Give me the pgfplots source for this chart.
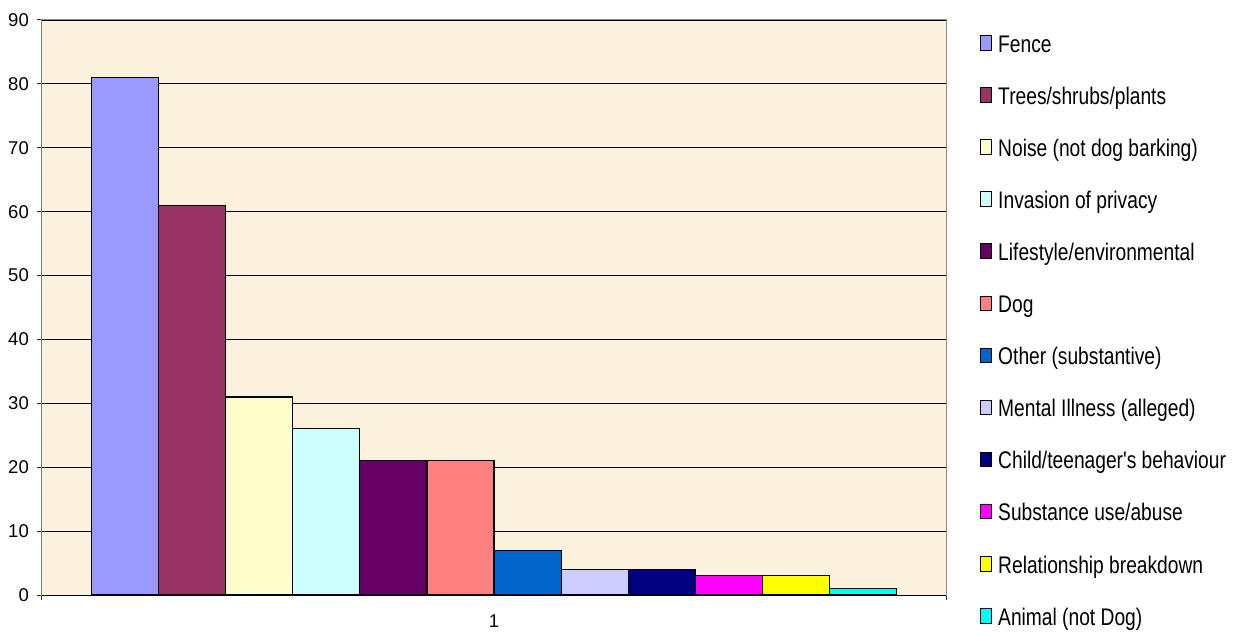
\documentclass[border=0pt]{standalone}
\usepackage{fontspec}
\setmainfont{Liberation Sans}
\newfontfamily\legendfont[FakeStretch=0.8]{Liberation Sans}
\usepackage{pgfplots}
\pgfplotsset{compat=1.18}

\definecolor{bgbeige}{HTML}{FCF1DC}
\definecolor{cFence}{HTML}{9999FF}
\definecolor{cTrees}{HTML}{993366}
\definecolor{cNoise}{HTML}{FFFFCC}
\definecolor{cPrivacy}{HTML}{CCFFFF}
\definecolor{cLifestyle}{HTML}{660066}
\definecolor{cDog}{HTML}{FF8080}
\definecolor{cOther}{HTML}{0066CC}
\definecolor{cMental}{HTML}{CCCCFF}
\definecolor{cChild}{HTML}{000080}
\definecolor{cSubstance}{HTML}{FF00FF}
\definecolor{cRelation}{HTML}{FFFF00}
\definecolor{cAnimal}{HTML}{00FFFF}

\newcommand{\ticksize}{\fontsize{18.5}{21}\selectfont}

\begin{document}
\begin{tikzpicture}[x=1pt,y=1pt]
\useasboundingbox (0,0) rectangle (1234,632);
\begin{axis}[
  at={(42pt,37pt)}, anchor=south west,
  scale only axis, width=904pt, height=575pt,
  xmin=0, xmax=2, ymin=0, ymax=90,
  ytick={0,10,...,90},
  yticklabel={\ticksize\pgfmathprintnumber{\tick}},
  ymajorgrids,
  grid style={black, line width=0.9pt},
  axis background/.style={fill=bgbeige},
  axis line style={draw=gray!90, line width=1pt},
  ybar=0pt, bar width=67.1pt,
  xtick={0,2}, xticklabels={,},
  extra x ticks={1}, extra x tick labels={\ticksize 1},
  extra x tick style={major tick length=0pt, xticklabel style={yshift=-18pt, inner sep=2pt}},
  tick pos=left,
  tick align=outside, major tick length=5pt,
  tick style={black!80, line width=1pt},
  /pgf/number format/assume math mode=true,
  yticklabel style={inner sep=0pt, xshift=-8pt},
  every axis plot/.append style={draw=black, line width=1.2pt},
  legend image code/.code={\draw[#1, draw=black, line width=1pt] (0pt,-4pt) rectangle (11.5pt,10.5pt);},
  legend cell align=left,
  legend style={
    at={(1.0371,0.9741)}, anchor=north west,
    draw=none, fill=none, inner sep=0pt,
    font=\legendfont\fontsize{24}{28}\selectfont,
    row sep=30.1pt, column sep=6pt,
    nodes={inner sep=0pt, text height=17pt, text depth=5pt},
  },
]
\addplot[fill=cFence] coordinates {(1,81)};
\addlegendentry{Fence}
\addplot[fill=cTrees] coordinates {(1,61)};
\addlegendentry{Trees/shrubs/plants}
\addplot[fill=cNoise] coordinates {(1,31)};
\addlegendentry{Noise (not dog barking)}
\addplot[fill=cPrivacy] coordinates {(1,26)};
\addlegendentry{Invasion of privacy}
\addplot[fill=cLifestyle] coordinates {(1,21)};
\addlegendentry{Lifestyle/environmental}
\addplot[fill=cDog] coordinates {(1,21)};
\addlegendentry{Dog}
\addplot[fill=cOther] coordinates {(1,7)};
\addlegendentry{Other (substantive)}
\addplot[fill=cMental] coordinates {(1,4)};
\addlegendentry{Mental Illness (alleged)}
\addplot[fill=cChild] coordinates {(1,4)};
\addlegendentry{Child/teenager's behaviour}
\addplot[fill=cSubstance] coordinates {(1,3)};
\addlegendentry{Substance use/abuse}
\addplot[fill=cRelation] coordinates {(1,3)};
\addlegendentry{Relationship breakdown}
\addplot[fill=cAnimal] coordinates {(1,1)};
\addlegendentry{Animal (not Dog)}
\draw[black!85, line width=1pt] (rel axis cs:0,0) -- (rel axis cs:0,1);
\draw[black, line width=1pt] (rel axis cs:0,0) -- (rel axis cs:1,0);
\end{axis}
\end{tikzpicture}
\end{document}
